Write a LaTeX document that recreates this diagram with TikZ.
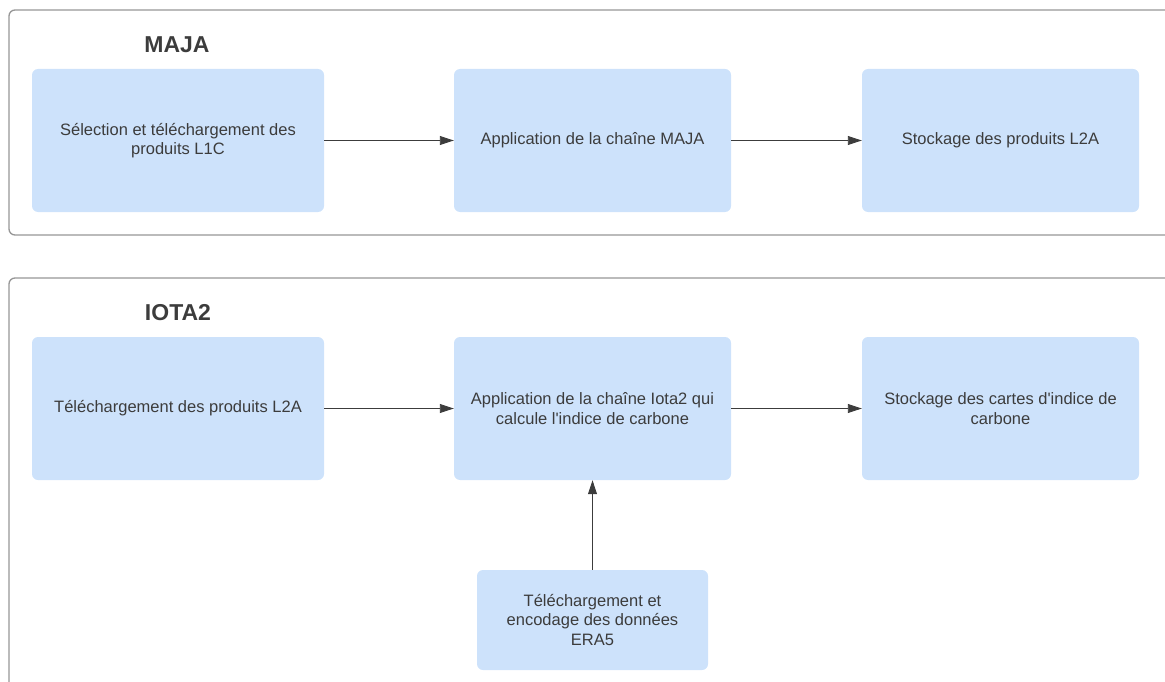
\documentclass[tikz,border=0pt]{standalone}
\usepackage{fontspec}
\setmainfont{Liberation Sans}
\usepackage{tikz}
\usetikzlibrary{arrows.meta}
\definecolor{boxblue}{RGB}{205,226,251}
\definecolor{textgray}{RGB}{60,60,60}
\definecolor{framegray}{RGB}{150,150,150}

\begin{document}
\begin{tikzpicture}[x=1pt,y=-1pt,
    every node/.style={text=textgray, font=\fontsize{16.5}{19.5}\selectfont},
    stepbox/.style={fill=boxblue, rounded corners=6pt, minimum width=292pt, minimum height=143pt, align=center, inner sep=0pt},
    title/.style={font=\fontsize{23}{26}\selectfont\bfseries},
    flow/.style={draw=textgray, line width=0.9pt, -{Triangle[length=14pt,width=9pt]}}]
                \useasboundingbox (0,0) rectangle (1165,682);
                \clip (0,0) rectangle (1165,682);

                \draw[framegray, line width=1.3pt, rounded corners=6pt] (9,10) rectangle (1190,235);
                \draw[framegray, line width=1.3pt, rounded corners=6pt] (9,278) rectangle (1190,720);

                \node[title] (majaT) at (177,45) {MAJA};
                \node[title] (iotaT) at (178,313) {IOTA2};

                \node[stepbox] (A) at (178,140.5) {Sélection et téléchargement des\\produits L1C};
                \node[stepbox, minimum width=277pt] (B) at (592.5,140.5) {Application de la chaîne MAJA};
                \node[stepbox, minimum width=277pt] (C) at (1000.5,140.5) {Stockage des produits L2A};

                \node[stepbox] (D) at (178,408.5) {Téléchargement des produits L2A};
                \node[stepbox, minimum width=277pt] (E) at (592.5,408.5) {Application de la chaîne Iota2 qui\\calcule l\textquotesingle indice de carbone};
                \node[stepbox, minimum width=277pt] (F) at (1000.5,408.5) {Stockage des cartes d\textquotesingle indice de\\carbone};

                \node[stepbox, minimum width=231pt, minimum height=100pt] (G) at (592.5,620) {Téléchargement et\\encodage des données\\ERA5};

                \draw[flow] (A) -- (B);
                \draw[flow] (B) -- (C);
                \draw[flow] (D) -- (E);
                \draw[flow] (E) -- (F);
                \draw[flow] (G) -- (E);
            \end{tikzpicture}
\end{document}
